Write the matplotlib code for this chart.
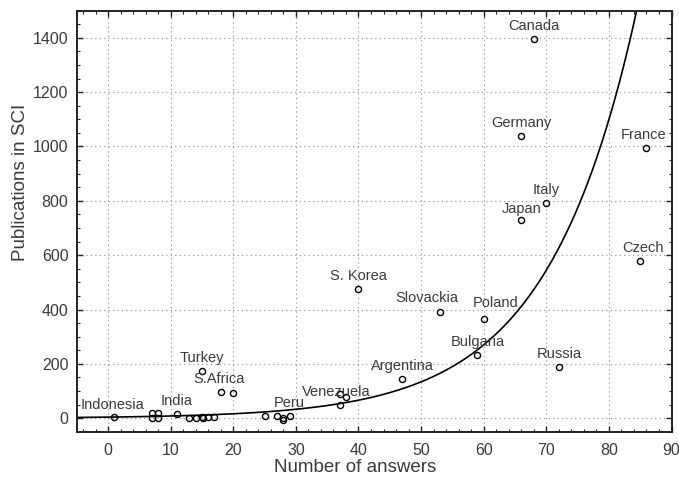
import numpy as np
import matplotlib
matplotlib.use("Agg")
import matplotlib.pyplot as plt
from matplotlib.ticker import MultipleLocator

plt.rcParams['font.family'] = ['Liberation Sans', 'DejaVu Sans']

# data
countries = ['Indonesia', '', '', '', '', 'India', '', '', '', '', '', '',
             'Turkey', 'S.Africa', '', '', '', '', '', 'Peru', '', '',
             'Venezuela', 'Argentina', 'S. Korea', 'Slovackia', 'Poland',
             'Bulgaria', 'Russia', 'Canada', 'Germany', 'France', 'Italy',
             'Japan', 'Czech']
answers = [1, 7, 7, 8, 8, 11, 13, 14, 15, 15.2, 16, 17,
           15, 18, 20, 25, 27, 28, 28, 29, 37, 38,
           37, 47, 40, 53, 60,
           59, 72, 68, 66, 86, 70,
           66, 85]
pubs = [3, 18, 2, 18, 2, 16, 1, 1, 3, 1, 4, 4,
        174, 96, 91, 8, 8, 0, -8, 8, 88, 79,
        47, 144, 474, 392, 366,
        233, 187, 1394, 1040, 993, 793,
        731, 580]

# exponential fit drawn in the original
fit_a = 4.0
fit_b = 0.0702

# label offsets (pixels) where they differ from the default
label_dx = {'France': -3, 'Slovackia': -13, 'Poland': 12, 'Indonesia': -2,
            'S.Africa': -2, 'Venezuela': -3, 'Czech': 3}
label_dy = {'Japan': 11, 'Indonesia': 12, 'Poland': 16, 'Slovackia': 14}

fig = plt.figure(figsize=(6.79, 4.83), dpi=100)
ax = fig.add_axes([0.113, 0.106, 0.876, 0.872])

xs = np.linspace(-5, 90, 400)
ax.plot(xs, fit_a * np.exp(fit_b * xs), color='black', lw=1.2, zorder=2)

ax.plot(answers, pubs, 'o', mfc='none', mec='black', ms=4.4, mew=1.0, zorder=3)

px2pt = 0.72
for name, x, y in zip(countries, answers, pubs):
    if not name:
        continue
    dx = label_dx.get(name, 0) * px2pt
    dy = label_dy.get(name, 13) * px2pt
    ax.annotate(name, (x, y), xytext=(dx, dy), textcoords='offset points',
                ha='center', va='center', fontsize=10.5, color='#3a3a3a',
                zorder=4)

ax.set_xlim(-5, 90)
ax.set_ylim(-50, 1500)
ax.xaxis.set_major_locator(MultipleLocator(10))
ax.xaxis.set_minor_locator(MultipleLocator(2))
ax.yaxis.set_major_locator(MultipleLocator(200))
ax.yaxis.set_minor_locator(MultipleLocator(50))
ax.tick_params(which='both', direction='in', top=True, right=True,
               colors='#222222', labelcolor='#3a3a3a', labelsize=11.5)
ax.tick_params(which='major', length=4, width=1)
ax.tick_params(which='minor', length=2.5, width=0.8)
ax.tick_params(axis='x', pad=8)
ax.tick_params(axis='y', pad=6)
for s in ax.spines.values():
    s.set_linewidth(1.4)
    s.set_color('#222222')

ax.grid(True, which='major', linestyle=(0, (1, 3)), color='#8a8a8a', lw=0.8)
ax.set_axisbelow(True)

ax.set_xlabel('Number of answers', fontsize=13.5, color='#3a3a3a')
ax.set_ylabel('Publications in SCI', fontsize=13.5, color='#3a3a3a')
ax.xaxis.set_label_coords(0.468, -0.065)
ax.yaxis.set_label_coords(-0.08, 0.592)

fig.savefig('out.png', dpi=100)
